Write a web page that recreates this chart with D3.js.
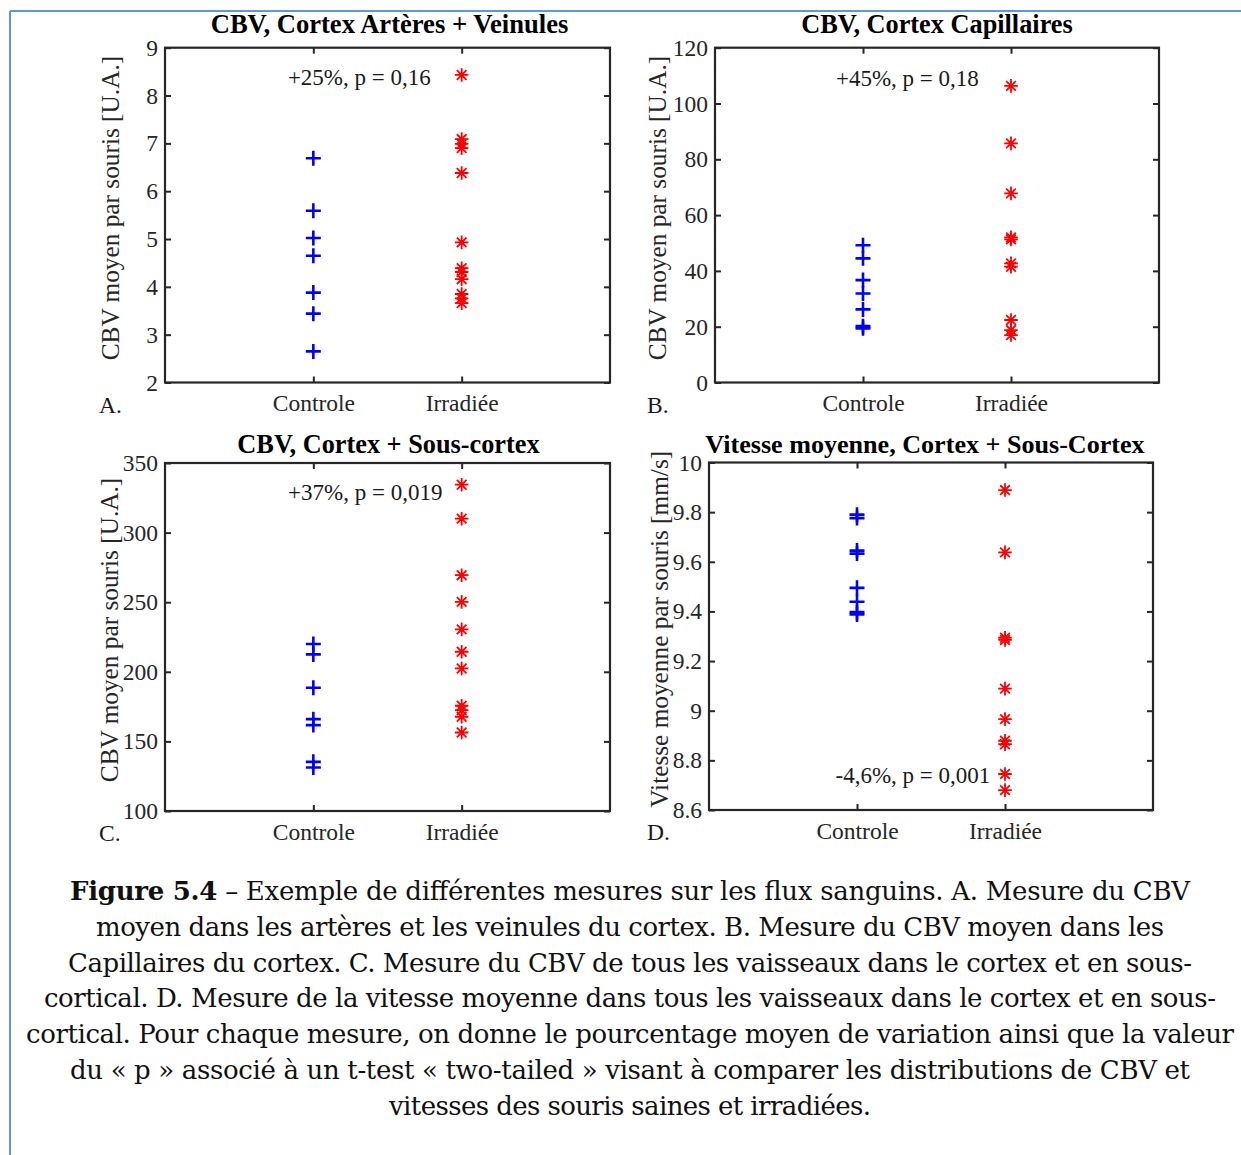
<!DOCTYPE html>
<html>
<head>
<meta charset="utf-8">
<script src="https://cdn.jsdelivr.net/npm/d3@7"></script>
<style>
  html, body { margin: 0; padding: 0; background: #ffffff; }
  svg { display: block; }
</style>
</head>
<body>
<svg id="fig" width="1241" height="1155"></svg>
<script>
// ---------- DATA ----------
const categories = ["Controle", "Irradiée"];

const titleA = "CBV, Cortex Artères + Veinules";
const controleA = [6.69, 5.59, 5.02, 4.65, 3.88, 3.44, 2.65];
const irradieeA = [8.43, 7.09, 6.99, 6.90, 6.38, 4.93, 4.39, 4.31, 4.16, 3.85, 3.76, 3.66];
const ticksA = [2, 3, 4, 5, 6, 7, 8, 9];
const noteA = "+25%, p = 0,16";

const titleB = "CBV, Cortex Capillaires";
const controleB = [49.2, 44.5, 36.7, 31.9, 26.2, 20.2, 19.4];
const irradieeB = [106.3, 85.7, 67.8, 52.0, 51.3, 42.7, 41.5, 22.4, 18.8, 17.0];
const ticksB = [0, 20, 40, 60, 80, 100, 120];
const noteB = "+45%, p = 0,18";

const titleC = "CBV, Cortex + Sous-cortex";
const controleC = [220, 212.5, 188.5, 166, 161.7, 135.3, 131.2];
const irradieeC = [334.4, 310, 269.4, 250.2, 230.5, 214.4, 202.4, 175.6, 172.5, 167.7, 156.4];
const ticksC = [100, 150, 200, 250, 300, 350];
const noteC = "+37%, p = 0,019";

const titleD = "Vitesse moyenne, Cortex + Sous-Cortex";
const controleD = [9.79, 9.776, 9.645, 9.633, 9.495, 9.439, 9.397, 9.388];
const irradieeD = [9.889, 9.638, 9.294, 9.285, 9.089, 8.966, 8.879, 8.865, 8.745, 8.680];
const ticksD = [8.6, 8.8, 9.0, 9.2, 9.4, 9.6, 9.8, 10];
const noteD = "-4,6%, p = 0,001";

const ylabelCBV = "CBV moyen par souris [U.A.]";
const ylabelVit = "Vitesse moyenne par souris [mm/s]";

const captionLines = [
  ["Figure 5.4", " – Exemple de différentes mesures sur les flux sanguins. A. Mesure du CBV"],
  ["", "moyen dans les artères et les veinules du cortex. B. Mesure du CBV moyen dans les"],
  ["", "Capillaires du cortex. C. Mesure du CBV de tous les vaisseaux dans le cortex et en sous-"],
  ["", "cortical. D. Mesure de la vitesse moyenne dans tous les vaisseaux dans le cortex et en sous-"],
  ["", "cortical. Pour chaque mesure, on donne le pourcentage moyen de variation ainsi que la valeur"],
  ["", "du « p » associé à un t-test « two-tailed » visant à comparer les distributions de CBV et"],
  ["", "vitesses des souris saines et irradiées."]
];

// ---------- LAYOUT ----------
const svg = d3.select("#fig");
const AX = "#262626";
const SERIF = "'Liberation Serif', 'Times New Roman', serif";

svg.append("line").attr("x1", 10).attr("y1", 11).attr("x2", 1241).attr("y2", 11)
  .attr("stroke", "#5b9bd5").attr("stroke-width", 2);
svg.append("line").attr("x1", 10).attr("y1", 11).attr("x2", 10).attr("y2", 1155)
  .attr("stroke", "#5b9bd5").attr("stroke-width", 2);

const panels = [
  { title: titleA, ctrl: controleA, irr: irradieeA, ticks: ticksA, note: noteA, noteX: 1.31, noteY: 8.22,
    ylabel: ylabelCBV, letter: "A.", box: { l: 165, r: 610, t: 47.7, b: 382.5 }, ylx: 110, lx: 99, titleY: 33, titleDx: 2, titleSize: 26.6 },
  { title: titleB, ctrl: controleB, irr: irradieeB, ticks: ticksB, note: noteB, noteX: 1.30, noteY: 106.3,
    ylabel: ylabelCBV, letter: "B.", box: { l: 715, r: 1159, t: 47.7, b: 382.5 }, ylx: 657, lx: 647, titleY: 33, titleDx: 0, titleSize: 26.3 },
  { title: titleC, ctrl: controleC, irr: irradieeC, ticks: ticksC, note: noteC, noteX: 1.35, noteY: 323.4,
    ylabel: ylabelCBV, letter: "C.", box: { l: 165, r: 610, t: 463, b: 811 }, ylx: 109, lx: 99, titleY: 453, titleDx: 1, titleSize: 26.3 },
  { title: titleD, ctrl: controleD, irr: irradieeD, ticks: ticksD, note: noteD, noteX: 1.378, noteY: 8.709,
    ylabel: ylabelVit, letter: "D.", box: { l: 709, r: 1153, t: 462.5, b: 810 }, ylx: 659, lx: 647, titleY: 453, titleDx: -6, titleSize: 26.1 }
];

function plusPath(s) { return `M${-s},0H${s}M0,${-s}V${s}`; }
function starPath(s) {
  const d = s * Math.SQRT1_2;
  return `M${-s},0H${s}M0,${-s}V${s}M${-d},${-d}L${d},${d}M${-d},${d}L${d},${-d}`;
}

panels.forEach(p => {
  const b = p.box;
  const g = svg.append("g");
  const x = d3.scaleLinear().domain([0, 3]).range([b.l, b.r]);
  const y = d3.scaleLinear().domain([p.ticks[0], p.ticks[p.ticks.length - 1]]).range([b.b, b.t]);
  const fmt = v => String(+v.toFixed(1));

  const la = g.append("g").attr("transform", `translate(${b.l},0)`)
    .call(d3.axisLeft(y).tickValues(p.ticks).tickSize(-6).tickPadding(7).tickFormat(fmt));
  const ra = g.append("g").attr("transform", `translate(${b.r},0)`)
    .call(d3.axisRight(y).tickValues(p.ticks).tickSize(-6).tickFormat(""));
  const ba = g.append("g").attr("transform", `translate(0,${b.b})`)
    .call(d3.axisBottom(x).tickValues([1, 2]).tickSize(-6).tickPadding(12).tickFormat((d, i) => categories[i]));
  const ta = g.append("g").attr("transform", `translate(0,${b.t})`)
    .call(d3.axisTop(x).tickValues([1, 2]).tickSize(-6).tickFormat(""));

  [la, ra, ba, ta].forEach(a => {
    a.select(".domain").remove();
    a.selectAll("line").attr("stroke", AX).attr("stroke-width", 2);
    a.selectAll("text").attr("fill", AX).style("font-family", SERIF).style("font-size", "23.5px");
  });

  g.append("rect").attr("x", b.l).attr("y", b.t).attr("width", b.r - b.l).attr("height", b.b - b.t)
    .attr("fill", "none").attr("stroke", AX).attr("stroke-width", 2.2);

  g.selectAll(".ctrl").data(p.ctrl).enter().append("path")
    .attr("class", "ctrl")
    .attr("transform", d => `translate(${x(1)},${y(d)})`)
    .attr("d", plusPath(7.5))
    .attr("stroke", "#0000ff").attr("stroke-width", 2.6).attr("fill", "none");
  g.selectAll(".irr").data(p.irr).enter().append("path")
    .attr("class", "irr")
    .attr("transform", d => `translate(${x(2)},${y(d)})`)
    .attr("d", starPath(6.8))
    .attr("stroke", "#ff0000").attr("stroke-width", 1.8).attr("fill", "none");

  g.append("text").attr("x", (b.l + b.r) / 2 + p.titleDx).attr("y", p.titleY)
    .attr("text-anchor", "middle").attr("fill", "#000")
    .style("font-family", SERIF).style("font-weight", "bold").style("font-size", p.titleSize + "px")
    .text(p.title);

  g.append("text").attr("x", x(p.noteX)).attr("y", y(p.noteY))
    .attr("text-anchor", "middle").attr("fill", "#1a1a1a")
    .style("font-family", SERIF).style("font-size", "23px")
    .text(p.note);

  const cy = (b.t + b.b) / 2 - 7;
  g.append("text").attr("transform", `translate(${p.ylx},${cy}) rotate(-90)`)
    .attr("text-anchor", "middle").attr("dy", "0.35em").attr("fill", AX)
    .style("font-family", SERIF).style("font-size", "25.3px")
    .text(p.ylabel);

  g.append("text").attr("x", p.lx).attr("y", b.b + 30)
    .attr("fill", "#1a1a1a").style("font-family", SERIF).style("font-size", "23.5px")
    .text(p.letter);
});

// ---------- CAPTION ----------
const capWidths = [1120, 1068, 1124, 1172, 1208, 1120, 482];
const capCenter = 630;
const capTop = 900, capStep = 35.8;
captionLines.forEach((ln, i) => {
  const w = capWidths[i];
  const t = svg.append("text")
    .attr("x", capCenter - w / 2).attr("y", capTop + i * capStep)
    .attr("textLength", w).attr("lengthAdjust", "spacing")
    .attr("fill", "#111")
    .style("font-family", "'DejaVu Serif', Georgia, serif").style("font-size", "26px");
  if (ln[0]) t.append("tspan").style("font-weight", "bold").text(ln[0]);
  t.append("tspan").text(ln[1]);
});
</script>
</body>
</html>
